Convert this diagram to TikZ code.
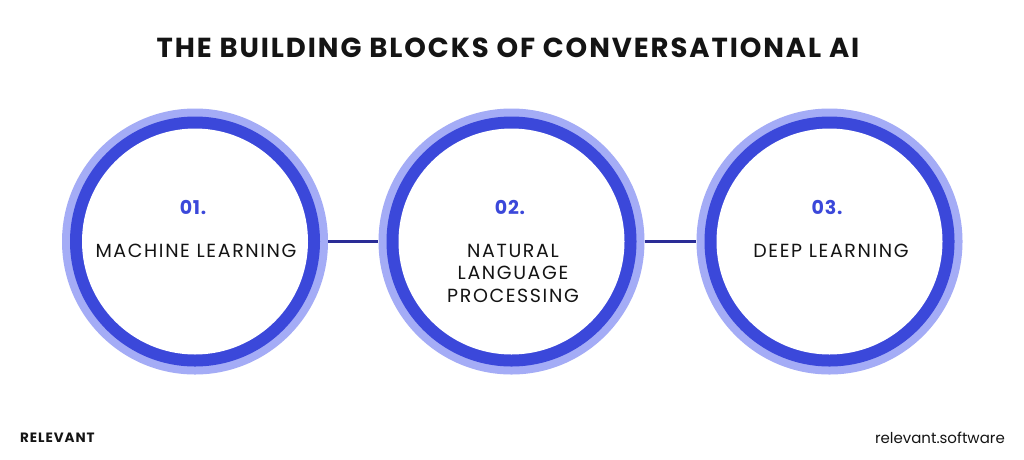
\documentclass[tikz,border=0pt]{standalone}
\usepackage{fontspec}
\setmainfont{Poppins}
\newfontfamily\titlefont[LetterSpace=7]{Poppins}
\newfontfamily\labelfont[LetterSpace=8.5]{Poppins}
\newfontfamily\numfont[LetterSpace=4]{Poppins}
\newfontfamily\brandfont[LetterSpace=7]{Poppins}
\definecolor{ringdark}{RGB}{59,72,218}
\definecolor{ringlight}{RGB}{164,172,246}
\definecolor{linkc}{RGB}{42,44,150}
\definecolor{txt}{RGB}{20,20,20}
\tikzset{
  outerring/.style={circle, inner sep=0pt, minimum size=266pt, fill=ringlight},
  midring/.style={circle, inner sep=0pt, minimum size=250pt, fill=ringdark},
  innerdisc/.style={circle, inner sep=0pt, minimum size=226pt, fill=white},
  numlabel/.style={font=\numfont\fontsize{19}{22}\selectfont\bfseries, text=ringdark},
  blocklabel/.style={font=\labelfont\fontsize{19}{22.5}\selectfont, text=txt, align=center},
  link/.style={draw=linkc, line width=3pt},
}
\begin{document}
\begin{tikzpicture}[x=1pt,y=-1pt]
\useasboundingbox (0,0) rectangle (1024,459);
\fill[white] (0,0) rectangle (1024,459);
\node[font=\titlefont\fontsize{27.5}{30}\selectfont\bfseries, text=txt] (title) at (508,48) {THE BUILDING BLOCKS OF CONVERSATIONAL AI};
% circles
\foreach \n/\x in {1/195,2/511.5,3/829.5}{
  \node[outerring] (c\n) at (\x,241.5) {};
  \node[midring] (m\n) at (\x,241.5) {};
  \node[innerdisc] (d\n) at (\x,241.5) {};
}
\draw[link] (c1.east) -- (c2.west);
\draw[link] (c2.east) -- (c3.west);
\node[numlabel] (n1) at (193,207) {01.};
\node[numlabel] (n2) at (510,207) {02.};
\node[numlabel] (n3) at (827,207) {03.};
\node[blocklabel] (l1) at (196,251) {MACHINE LEARNING};
\node[blocklabel] (l2) at (513,273) {NATURAL\\LANGUAGE\\PROCESSING};
\node[blocklabel] (l3) at (831,251) {DEEP LEARNING};
\node[font=\brandfont\fontsize{13.5}{16}\selectfont\bfseries, text=txt, anchor=west, inner sep=0pt] (brand) at (20,438) {RELEVANT};
\node[font=\fontsize{15}{18}\selectfont, text=txt, anchor=east, inner sep=0pt] (site) at (1005,438) {relevant.software};
\end{tikzpicture}
\end{document}
